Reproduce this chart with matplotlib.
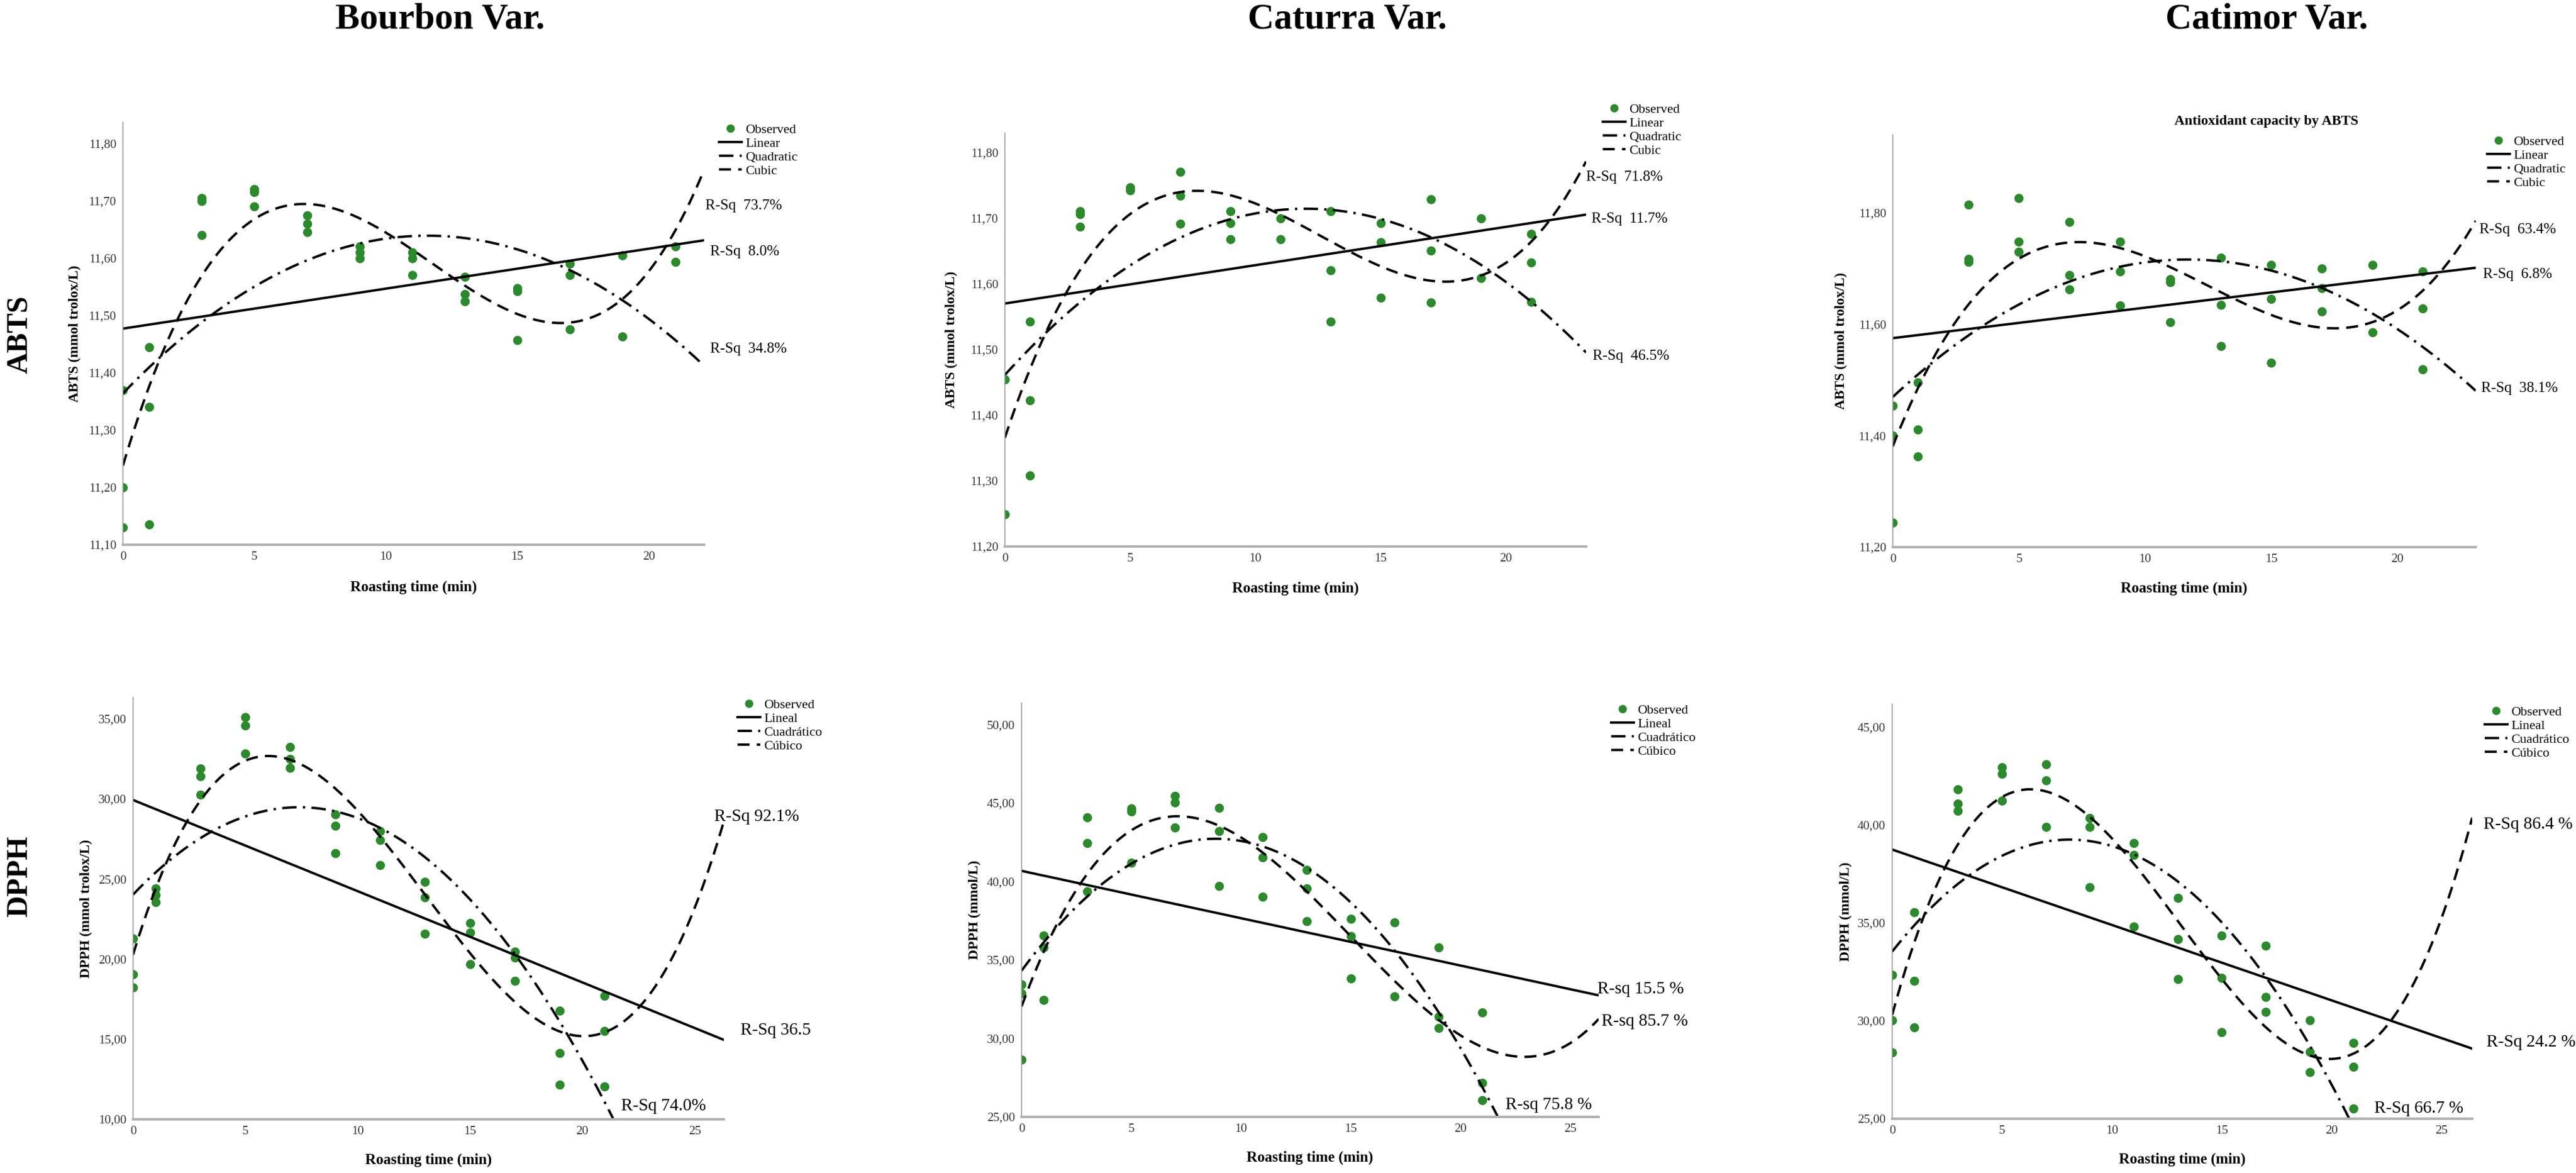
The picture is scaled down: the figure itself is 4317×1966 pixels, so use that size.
import numpy as np
import matplotlib
matplotlib.use("Agg")
import matplotlib.pyplot as plt
from matplotlib.lines import Line2D

plt.rcParams['font.family'] = ['Liberation Serif', 'DejaVu Serif']

################### DATA ###################
# roasting times (min), replicates repeated
t_bourbon_abts = [0, 0, 0, 1, 1, 1, 3, 3, 3, 5, 5, 5, 7, 7, 7, 9, 9, 9, 11, 11, 11,
                  13, 13, 13, 15, 15, 15, 17, 17, 17, 19, 19, 21, 21]
abts_bourbon = [11.13, 11.20, 11.37, 11.135, 11.34, 11.445, 11.64, 11.70, 11.705,
                11.69, 11.715, 11.72, 11.645, 11.66, 11.675, 11.60, 11.61, 11.62,
                11.57, 11.60, 11.61, 11.525, 11.537, 11.567, 11.457, 11.542, 11.548,
                11.476, 11.57, 11.59, 11.463, 11.605, 11.593, 11.62]

t_caturra_abts = [0, 0, 1, 1, 1, 3, 3, 3, 5, 5, 7, 7, 7, 9, 9, 9, 11, 11,
                  13, 13, 13, 15, 15, 15, 17, 17, 17, 19, 19, 21, 21, 21]
abts_caturra = [11.249, 11.455, 11.308, 11.423, 11.543, 11.687, 11.706, 11.711,
                11.743, 11.747, 11.692, 11.735, 11.771, 11.668, 11.693, 11.711,
                11.668, 11.70, 11.543, 11.621, 11.711, 11.579, 11.664, 11.693,
                11.572, 11.651, 11.729, 11.609, 11.70, 11.573, 11.633, 11.676]

t_catimor_abts = [0, 0, 0, 1, 1, 1, 3, 3, 3, 5, 5, 5, 7, 7, 7, 9, 9, 9, 11, 11, 11,
                  13, 13, 13, 15, 15, 15, 17, 17, 17, 19, 19, 21, 21, 21]
abts_catimor = [11.244, 11.40, 11.454, 11.363, 11.411, 11.496, 11.712, 11.717, 11.815,
                11.73, 11.748, 11.826, 11.663, 11.688, 11.784, 11.634, 11.695, 11.748,
                11.604, 11.676, 11.681, 11.561, 11.635, 11.719, 11.531, 11.646, 11.707,
                11.623, 11.665, 11.70, 11.586, 11.707, 11.519, 11.628, 11.695]

t_bourbon_dpph = [0, 0, 0, 1, 1, 1, 3, 3, 3, 5, 5, 5, 7, 7, 7, 9, 9, 9, 11, 11, 11,
                  13, 13, 13, 15, 15, 15, 17, 17, 17, 19, 19, 19, 21, 21, 21]
dpph_bourbon = [18.22, 19.05, 21.28, 23.56, 24.02, 24.43, 30.27, 31.43, 31.88,
                32.82, 34.58, 35.09, 31.93, 32.50, 33.23, 26.60, 28.32, 29.03,
                25.88, 27.43, 27.99, 21.57, 23.85, 24.84, 19.67, 21.64, 22.26,
                18.63, 20.08, 20.46, 12.15, 14.14, 16.77, 12.05, 15.53, 17.70]

t_caturra_dpph = [0, 0, 0, 1, 1, 1, 3, 3, 3, 5, 5, 5, 7, 7, 7, 9, 9, 9, 11, 11, 11,
                  13, 13, 13, 15, 15, 15, 17, 17, 19, 19, 19, 21, 21, 21]
dpph_caturra = [28.63, 32.85, 33.44, 32.45, 35.80, 36.54, 39.35, 42.45, 44.09,
                41.20, 44.45, 44.66, 43.42, 45.04, 45.46, 39.70, 43.19, 44.68,
                39.03, 41.52, 42.83, 37.45, 39.56, 40.72, 33.80, 36.50, 37.62,
                32.66, 37.38, 30.65, 31.37, 35.80, 26.05, 27.17, 31.65]

t_catimor_dpph = [0, 0, 0, 1, 1, 1, 3, 3, 3, 5, 5, 5, 7, 7, 7, 9, 9, 9, 11, 11, 11,
                  13, 13, 13, 15, 15, 15, 17, 17, 17, 19, 19, 19, 21, 21, 21]
dpph_catimor = [28.39, 30.03, 32.34, 29.66, 32.03, 35.56, 40.73, 41.10, 41.83,
                41.24, 42.63, 42.97, 39.92, 42.29, 43.10, 36.83, 39.92, 40.37,
                34.83, 38.47, 39.10, 32.12, 34.19, 36.27, 29.41, 32.20, 34.37,
                30.47, 31.22, 33.85, 27.37, 28.42, 30.03, 25.51, 27.66, 28.86]

varieties = ["Bourbon Var.", "Caturra Var.", "Catimor Var."]
legend_en = ["Observed", "Linear", "Quadratic", "Cubic"]
legend_es = ["Observed", "Lineal", "Cuadrático", "Cúbico"]

# R-Sq labels: cubic, linear, quadratic
rsq_top = [["R-Sq  73.7%", "R-Sq  8.0%", "R-Sq  34.8%"],
           ["R-Sq  71.8%", "R-Sq  11.7%", "R-Sq  46.5%"],
           ["R-Sq  63.4%", "R-Sq  6.8%", "R-Sq  38.1%"]]
rsq_bot = [["R-Sq 92.1%", "R-Sq 36.5", "R-Sq 74.0%"],
           ["R-sq 85.7 %", "R-sq 15.5 %", "R-sq 75.8 %"],
           ["R-Sq 86.4 %", "R-Sq 24.2 %", "R-Sq 66.7 %"]]

################### FIGURE ###################
W, H = 4317, 1966
fig = plt.figure(figsize=(W / 100, H / 100), dpi=100)
GREEN = '#2b8a2b'
LW = 2.9
LS_QUAD = (0, (6, 2.6, 1, 2.6))
LS_CUB = (0, (5, 3))


def px_axes(l, r, t, b):
    return fig.add_axes([l / W, 1 - b / H, (r - l) / W, (b - t) / H])


def fig_text(x, y, s, **kw):
    fig.text(x / W, 1 - y / H, s, **kw)


def panel(box, t, y, xmax, ylim, yticks, xticks, ylabel, ylabel_x, xlabel_y,
          labels, leg_xy, rsq, rsq_xy, rsq_size):
    ax = px_axes(*box)
    t = np.array(t, float)
    y = np.array(y, float)
    xs = np.linspace(0, xmax, 400)
    ax.plot(t, y, 'o', color=GREEN, ms=10, mec=GREEN, zorder=2)
    ax.plot(xs, np.polyval(np.polyfit(t, y, 1), xs), color='black', lw=LW, ls='-')
    ax.plot(xs, np.polyval(np.polyfit(t, y, 2), xs), color='black', lw=LW, ls=LS_QUAD)
    ax.plot(xs, np.polyval(np.polyfit(t, y, 3), xs), color='black', lw=LW, ls=LS_CUB)
    ax.set_xlim(0, xmax)
    ax.set_ylim(*ylim)
    ax.set_yticks(yticks)
    ax.set_yticklabels([f"{v:.2f}".replace('.', ',') for v in yticks])
    ax.set_xticks(xticks)
    ax.tick_params(length=0, labelsize=15, pad=8, colors='#333333')
    for s in ['top', 'right']:
        ax.spines[s].set_visible(False)
    ax.spines['left'].set_color('#999999')
    ax.spines['left'].set_linewidth(1.2)
    ax.spines['bottom'].set_color('#b0b0b0')
    ax.spines['bottom'].set_linewidth(3)
    l, r, tp, b = box
    fig_text(ylabel_x, (tp + b) / 2, ylabel, rotation=90, ha='center', va='center',
             fontsize=17, fontweight='bold')
    fig_text((l + r) / 2, xlabel_y, "Roasting time (min)", ha='center', va='center',
             fontsize=18, fontweight='bold')
    handles = [Line2D([], [], ls='none', marker='o', color=GREEN, ms=9),
               Line2D([], [], color='black', lw=LW, ls='-'),
               Line2D([], [], color='black', lw=LW, ls=LS_QUAD),
               Line2D([], [], color='black', lw=LW, ls=LS_CUB)]
    ax.legend(handles, labels, loc='upper left', frameon=False, fontsize=16,
              bbox_to_anchor=(leg_xy[0] / W, 1 - leg_xy[1] / H),
              bbox_transform=fig.transFigure, borderpad=0, borderaxespad=0,
              handlelength=1.7, handletextpad=0.3, labelspacing=0.12)
    for s, (x0, y0) in zip(rsq, rsq_xy):
        fig_text(x0, y0, s, ha='left', va='center', fontsize=rsq_size)
    return ax


# top row: ABTS
panel((206, 1180, 205, 913), t_bourbon_abts, abts_bourbon, 22.1, (11.10, 11.837),
      np.arange(11.10, 11.81, 0.10), [0, 5, 10, 15, 20], "ABTS (mmol trolox/L)", 125, 984,
      legend_en, (1205, 207), rsq_top[0], [(1182, 345), (1190, 422), (1190, 585)], 18)
panel((1684, 2658, 223, 916), t_caturra_abts, abts_caturra, 23.2, (11.20, 11.83),
      np.arange(11.20, 11.81, 0.10), [0, 5, 10, 15, 20], "ABTS (mmol trolox/L)", 1594, 986,
      legend_en, (2686, 173), rsq_top[1], [(2658, 297), (2667, 367), (2669, 597)], 18)
panel((3172, 4149, 226, 917), t_catimor_abts, abts_catimor, 23.1, (11.20, 11.94),
      np.arange(11.20, 11.81, 0.20), [0, 5, 10, 15, 20], "ABTS (mmol trolox/L)", 3085, 986,
      legend_en, (4168, 227), rsq_top[2], [(4155, 385), (4161, 460), (4158, 651)], 18)

# bottom row: DPPH
panel((223, 1213, 1169, 1876), t_bourbon_dpph, dpph_bourbon, 26.3, (10, 36.33),
      np.arange(10, 36, 5.0), [0, 5, 10, 15, 20, 25], "DPPH (mmol trolox/L)", 144, 1944,
      legend_es, (1236, 1171), rsq_bot[0], [(1197, 1369), (1241, 1727), (1041, 1854)], 21)
panel((1712, 2679, 1178, 1872), t_caturra_dpph, dpph_caturra, 26.3, (25, 51.37),
      np.arange(25, 51, 5.0), [0, 5, 10, 15, 20, 25], "DPPH (mmol/L)", 1633, 1940,
      legend_es, (2700, 1180), rsq_bot[1], [(2684, 1712), (2677, 1658), (2523, 1852)], 21)
panel((3171, 4143, 1180, 1875), t_catimor_dpph, dpph_catimor, 26.4, (25, 46.19),
      np.arange(25, 46, 5.0), [0, 5, 10, 15, 20, 25], "DPPH (mmol/L)", 3093, 1943,
      legend_es, (4164, 1183), rsq_bot[2], [(4162, 1382), (4167, 1747), (3979, 1858)], 21)

# column and row headers
for name, cx in zip(varieties, [737, 2258, 3799]):
    fig_text(cx, 33, name, ha='center', va='center', fontsize=44, fontweight='bold')
fig_text(33, 561, "ABTS", rotation=90, ha='center', va='center', fontsize=36, fontweight='bold')
fig_text(33, 1469, "DPPH", rotation=90, ha='center', va='center', fontsize=36, fontweight='bold')
fig_text(3798, 203, "Antioxidant capacity by ABTS", ha='center', va='center',
         fontsize=17, fontweight='bold')

fig.savefig("out.png", dpi=100)
